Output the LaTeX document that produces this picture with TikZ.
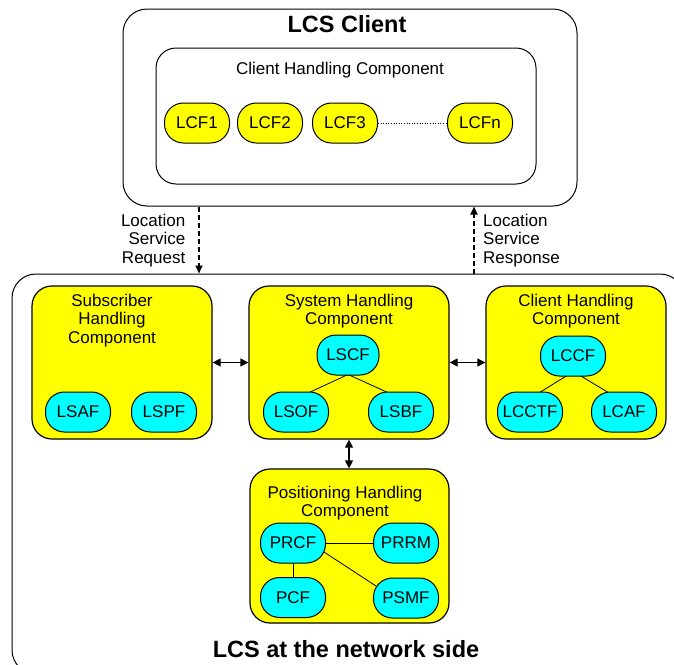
\documentclass[tikz,border=0pt]{standalone}
\usepackage{fontspec}
\setmainfont{Liberation Sans}
\usetikzlibrary{arrows.meta,calc}
\definecolor{ylwc}{RGB}{255,255,0}
\definecolor{aquac}{RGB}{0,255,255}
\pgfdeclarelayer{bg}
\pgfdeclarelayer{links}
\pgfsetlayers{bg,links,main}
\begin{document}
\begin{tikzpicture}[x=1pt,y=-1pt,
  txt/.style={font=\fontsize{17}{18.5}\selectfont, align=center, inner sep=0},
  big/.style={font=\fontsize{23.5}{26}\selectfont\bfseries, inner sep=0},
  pill/.style={draw, line width=1pt, minimum width=65pt, minimum height=40pt, rounded corners=19pt, inner sep=0, font=\fontsize{17}{18.5}\selectfont},
  ylw/.style={pill, fill=ylwc},
  cyn/.style={pill, fill=aquac},
  comp/.style={draw, line width=1.2pt, fill=ylwc, rounded corners=20pt, inner sep=0},
  frame/.style={draw, line width=1pt, rounded corners=24pt, inner sep=0},
  dbl/.style={line width=1.2pt, {Triangle[length=8pt,width=8pt]}-{Triangle[length=8pt,width=8pt]}},
  dsh/.style={line width=1.8pt, dash pattern=on 5pt off 3pt, -{Triangle[length=8pt,width=7pt]}},
  link/.style={line width=0.8pt}
]
\useasboundingbox (0,0) rectangle (674,664);

\begin{pgfonlayer}{bg}
  \begin{scope}
    \clip (0,0) rectangle (674,664);
    \node[frame, minimum width=672pt, minimum height=400pt] (net) at (348,474) {};
  \end{scope}
  \node[frame, minimum width=454pt, minimum height=197pt] (client) at (350,107.5) {};
  \node[frame, rounded corners=20pt, minimum width=380pt, minimum height=136pt] (chc) at (346,116) {};
  \node[comp, minimum width=180pt, minimum height=153pt] (sub) at (122,362.5) {};
  \node[comp, minimum width=200pt, minimum height=153pt] (sys) at (349,362.5) {};
  \node[comp, minimum width=180pt, minimum height=153pt] (cli) at (576,362.5) {};
  \node[comp, minimum width=199pt, minimum height=154pt] (pos) at (349.5,546) {};
\end{pgfonlayer}

% titles and labels
\node[big, anchor=base] (t1) at (347,32) {LCS Client};
\node[big, anchor=base] (t2) at (346,657) {LCS at the network side};
\node[txt, anchor=north] (t3) at (340,61.5) {Client Handling Component};
\node[txt, anchor=north] (t4) at (112,293.5) {Subscriber\\Handling\\Component};
\node[txt, anchor=north] (t5) at (349,293.5) {System Handling\\Component};
\node[txt, anchor=north] (t6) at (576,293.5) {Client Handling\\Component};
\node[txt, anchor=north] (t7) at (345,485.5) {Positioning Handling\\Component};
\node[txt, align=right, anchor=north east] (t8) at (185.5,213.5) {Location\\Service\\Request};
\node[txt, align=left, anchor=north west] (t9) at (483,213.5) {Location\\Service\\Response};

% function nodes
\node[ylw] (lcf1) at (197,123) {LCF1};
\node[ylw] (lcf2) at (270,123) {LCF2};
\node[ylw] (lcf3) at (345,123) {LCF3};
\node[ylw] (lcfn) at (480,123) {LCFn};

\node[cyn] (lsaf) at (78,412) {LSAF};
\node[cyn] (lspf) at (164,412) {LSPF};

\node[cyn, minimum width=62pt] (lscf) at (348,355) {LSCF};
\node[cyn] (lsof) at (296,412) {LSOF};
\node[cyn] (lsbf) at (401,412) {LSBF};

\node[cyn] (lccf) at (573,356) {LCCF};
\node[cyn] (lcctf) at (530,412) {LCCTF};
\node[cyn] (lcaf) at (624,412) {LCAF};

\node[cyn] (prcf) at (293,543) {PRCF};
\node[cyn] (prrm) at (406,543) {PRRM};
\node[cyn] (pcf) at (293,597.5) {PCF};
\node[cyn] (psmf) at (406,598) {PSMF};

% links
\begin{pgfonlayer}{links}
  \draw[link] ([yshift=1pt]lscf.south) -- ([xshift=11pt,yshift=-2pt]lsof.north);
  \draw[link] ([yshift=1pt]lscf.south) -- ([xshift=-11pt,yshift=-2pt]lsbf.north);
  \draw[link] ([xshift=-6pt,yshift=1pt]lccf.south) -- ([xshift=8pt,yshift=-2pt]lcctf.north);
  \draw[link] ([xshift=7pt,yshift=1pt]lccf.south) -- ([xshift=-14pt,yshift=-2pt]lcaf.north);
  \draw[link] (prcf.center) -- (prrm.center);
  \draw[link] (prcf.center) -- (pcf.center);
  \draw[link] ([xshift=-2pt,yshift=-9pt]prcf.east) -- ([xshift=3pt,yshift=12pt]psmf.west);
\end{pgfonlayer}
\draw[line width=0.6pt, dotted] (lcf3.east) -- (lcfn.west);

% arrows
\draw[dsh] (199,0 |- client.south) -- (199,0 |- net.north);
\draw[dsh] (474,0 |- net.north) -- (474,0 |- client.south);
\draw[dbl] (sub.east) -- (sys.west);
\draw[dbl] (sys.east) -- (cli.west);
\draw[dbl] (sys.south) -- (sys.south |- pos.north);
\end{tikzpicture}
\end{document}
